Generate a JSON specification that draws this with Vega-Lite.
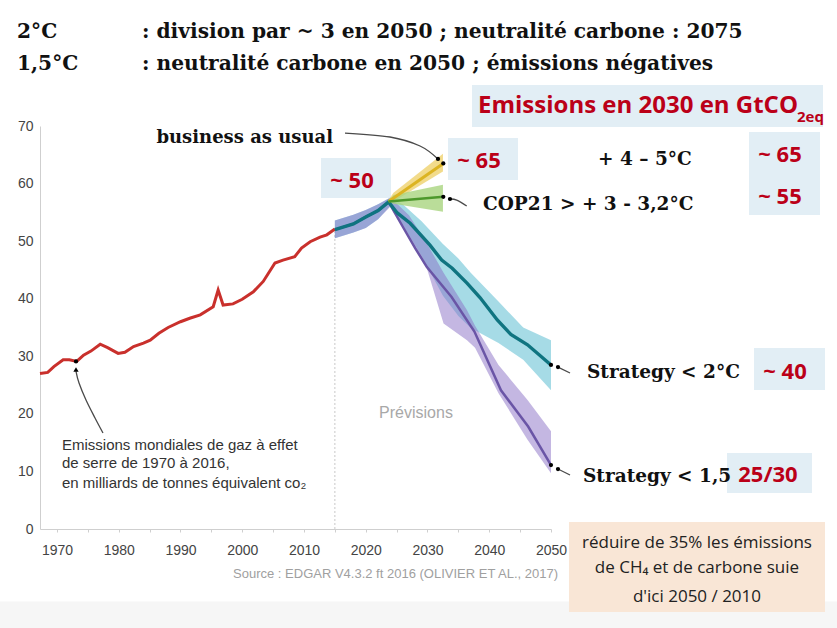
{
 "$schema": "https://vega.github.io/schema/vega-lite/v6.json",
 "width": 511, "height": 403,
 "autosize": {"type": "none"},
 "padding": {"left": 40, "top": 126, "right": 286, "bottom": 99},
 "background": "#ffffff",
 "config": {"view": {"stroke": null}},
 "datasets": {
  "strip": [{"year": 1960.77, "year2": 2096.4, "value": -12.6, "value2": -17.3}],
  "blueBoxes": [
   {"year": 2012.75, "year2": 2024.09, "value": 57.49, "value2": 64.44},
   {"year": 2033.32, "year2": 2044.66, "value": 60.62, "value2": 67.92},
   {"year": 2037.21, "year2": 2094.05, "value": 69.83, "value2": 77.12},
   {"year": 2082.06, "year2": 2093.56, "value": 54.54, "value2": 68.96},
   {"year": 2082.87, "year2": 2094.37, "value": 24.14, "value2": 31.44},
   {"year": 2078.5, "year2": 2092.26, "value": 6.25, "value2": 13.2}
  ],
  "peachBox": [{"year": 2052.91, "year2": 2094.37, "value": -14.42, "value2": 1.22}],
  "rule2015": [{"year": 2015, "value": 0, "value2": 51.8}],
  "bandC": [
   {"year": 2015, "value": 50.5, "value2": 53.6},
   {"year": 2018, "value": 51.5, "value2": 54.6},
   {"year": 2020, "value": 52.3, "value2": 55.4},
   {"year": 2022, "value": 53.8, "value2": 56.4},
   {"year": 2024, "value": 56.2, "value2": 57.6},
   {"year": 2026, "value": 52.8, "value2": 56.4},
   {"year": 2029, "value": 47.5, "value2": 53.5},
   {"year": 2032.5, "value": 40.5, "value2": 49.5},
   {"year": 2035, "value": 37, "value2": 47},
   {"year": 2037, "value": 34.9, "value2": 44.5},
   {"year": 2041.5, "value": 32.3, "value2": 39.5},
   {"year": 2045.5, "value": 29.4, "value2": 35},
   {"year": 2050, "value": 24.1, "value2": 32.8}
  ],
  "bandP": [
   {"year": 2015, "value": 50.5, "value2": 53.6},
   {"year": 2018, "value": 51.5, "value2": 54.6},
   {"year": 2020, "value": 52.3, "value2": 55.4},
   {"year": 2022, "value": 53.8, "value2": 56.4},
   {"year": 2024, "value": 56, "value2": 57.6},
   {"year": 2027, "value": 50.5, "value2": 54.5},
   {"year": 2029.7, "value": 46, "value2": 50},
   {"year": 2032.6, "value": 35.7, "value2": 44.5},
   {"year": 2036.4, "value": 32.8, "value2": 38},
   {"year": 2037.7, "value": 31.5, "value2": 35.3},
   {"year": 2041.5, "value": 23.6, "value2": 28.5},
   {"year": 2046.2, "value": 15.5, "value2": 22.4},
   {"year": 2050, "value": 9.7, "value2": 17}
  ],
  "bandY": [
   {"year": 2023.7, "value": 56.8, "value2": 57.2},
   {"year": 2024.5, "value": 56.9, "value2": 58.4},
   {"year": 2032.5, "value": 62.1, "value2": 65.2}
  ],
  "bandG": [
   {"year": 2023.7, "value": 56.8, "value2": 57.0},
   {"year": 2024.5, "value": 56.5, "value2": 58},
   {"year": 2032.5, "value": 55.1, "value2": 59.8}
  ],
  "hist": [
   {"year": 1967.25, "value": 27.0}, {"year": 1968.5, "value": 27.2}, {"year": 1969.5, "value": 28.2},
   {"year": 1971, "value": 29.4}, {"year": 1972, "value": 29.4}, {"year": 1973.2, "value": 29.1},
   {"year": 1974.3, "value": 30.2}, {"year": 1975.5, "value": 30.9}, {"year": 1977, "value": 32.1},
   {"year": 1978.2, "value": 31.5}, {"year": 1979.9, "value": 30.5}, {"year": 1981, "value": 30.7},
   {"year": 1982.4, "value": 31.7}, {"year": 1984, "value": 32.3}, {"year": 1985.1, "value": 32.8},
   {"year": 1986.5, "value": 34.0}, {"year": 1988, "value": 35.0}, {"year": 1990, "value": 36.0},
   {"year": 1991.5, "value": 36.6}, {"year": 1993.2, "value": 37.2}, {"year": 1995.3, "value": 38.6},
   {"year": 1996.1, "value": 41.5}, {"year": 1996.9, "value": 38.9}, {"year": 1998.5, "value": 39.1},
   {"year": 2000, "value": 39.9}, {"year": 2001.8, "value": 41.2}, {"year": 2003.4, "value": 43.0},
   {"year": 2005.3, "value": 46.2}, {"year": 2006.6, "value": 46.7}, {"year": 2008.5, "value": 47.3},
   {"year": 2009.6, "value": 48.8}, {"year": 2011, "value": 49.9}, {"year": 2012.6, "value": 50.7},
   {"year": 2013.7, "value": 51.1}, {"year": 2015, "value": 52.1}
  ],
  "lineP": [
   {"year": 2015, "value": 52}, {"year": 2018, "value": 53}, {"year": 2020, "value": 54.2},
   {"year": 2022, "value": 55.3}, {"year": 2023.7, "value": 56.8}, {"year": 2026, "value": 52.5},
   {"year": 2028, "value": 48.8}, {"year": 2029.9, "value": 45.5}, {"year": 2033.9, "value": 40.3},
   {"year": 2037.6, "value": 34.3}, {"year": 2041.9, "value": 24.1}, {"year": 2046.3, "value": 17.8},
   {"year": 2050, "value": 11.1}
  ],
  "lineT": [
   {"year": 2015, "value": 52}, {"year": 2018, "value": 53}, {"year": 2020, "value": 54.2},
   {"year": 2022, "value": 55.3}, {"year": 2023.7, "value": 56.8}, {"year": 2025.1, "value": 54.9},
   {"year": 2027.2, "value": 53.1}, {"year": 2030.4, "value": 49.3}, {"year": 2032.3, "value": 46.7},
   {"year": 2034, "value": 45.3}, {"year": 2036.4, "value": 42.7}, {"year": 2038.5, "value": 40.2},
   {"year": 2041.3, "value": 36.3}, {"year": 2043.5, "value": 33.8}, {"year": 2046.2, "value": 32},
   {"year": 2050, "value": 28.5}
  ],
  "lineY": [{"year": 2023.7, "value": 56.9}, {"year": 2032.56, "value": 63.5}],
  "lineG": [{"year": 2023.7, "value": 56.9}, {"year": 2032.56, "value": 57.7}],
  "connectors": [
   {"id": "emis", "o": 0, "year": 1977.45, "value": 16.67},
   {"id": "emis", "o": 1, "year": 1976.16, "value": 19.28},
   {"id": "emis", "o": 2, "year": 1974.7, "value": 22.41},
   {"id": "emis", "o": 3, "year": 1973.57, "value": 25.36},
   {"id": "emis", "o": 4, "year": 1973.08, "value": 27.4},
   {"id": "bau", "o": 0, "year": 2016.64, "value": 68.78},
   {"id": "bau", "o": 1, "year": 2023.93, "value": 68.09},
   {"id": "bau", "o": 2, "year": 2028.79, "value": 66.53},
   {"id": "bau", "o": 3, "year": 2031.7, "value": 64.27},
   {"id": "cop", "o": 0, "year": 2036.35, "value": 56.1},
   {"id": "cop", "o": 1, "year": 2034.73, "value": 57.14},
   {"id": "cop", "o": 2, "year": 2033.64, "value": 57.32},
   {"id": "s2", "o": 0, "year": 2053.08, "value": 27.09},
   {"id": "s2", "o": 1, "year": 2051.13, "value": 28.13},
   {"id": "s15", "o": 0, "year": 2053.08, "value": 9.38},
   {"id": "s15", "o": 1, "year": 2051.13, "value": 10.42}
  ],
  "dots": [
   {"year": 1973.08, "value": 29.1}, {"year": 2031.7, "value": 64.27}, {"year": 2032.56, "value": 63.5},
   {"year": 2032.56, "value": 57.7}, {"year": 2033.64, "value": 57.32}, {"year": 2050, "value": 28.5},
   {"year": 2051.13, "value": 28.13}, {"year": 2050, "value": 11.1}, {"year": 2051.13, "value": 10.42}
  ],
  "arrowHead": [{"year": 1973.08, "value": 27.7}],
  "header": [
   {"label": "2°C", "year": 1963.53, "value": 85.29},
   {"label": ": division par ~ 3 en 2050 ; neutralité carbone : 2075", "year": 1983.77, "value": 85.29},
   {"label": "1,5°C", "year": 1963.53, "value": 79.73},
   {"label": ": neutralité carbone en 2050 ; émissions négatives", "year": 1983.77, "value": 79.73}
  ],
  "serifL": [
   {"label": "+ 4 – 5°C", "year": 2057.61, "value": 63.23},
   {"label": "COP21 > + 3 - 3,2°C", "year": 2038.99, "value": 55.41},
   {"label": "Strategy < 2°C", "year": 2055.83, "value": 26.18},
   {"label": "Strategy < 1,5", "year": 2055.18, "value": 8.22}
  ],
  "serifR": [{"label": "business as usual", "year": 2014.7, "value": 66.99}],
  "redNums": [
   {"label": "~ 50", "year": 2017.77, "value": 59.18},
   {"label": "~ 65", "year": 2038.34, "value": 62.7},
   {"label": "~ 65", "year": 2087.08, "value": 63.8},
   {"label": "~ 55", "year": 2087.08, "value": 56.45},
   {"label": "~ 40", "year": 2087.89, "value": 26.05},
   {"label": "25/30", "year": 2085.14, "value": 8.22}
  ],
  "titleMain": [{"label": "Emissions en 2030 en GtCO", "year": 2038.18, "value": 72.26}],
  "titleSub": [{"label": "2eq", "year": 2089.84, "value": 70.75}],
  "peachText": [
   {"label": "réduire de 35% les émissions", "year": 2073.64, "value": -3.36},
   {"label": "de CH₄ et de carbone suie", "year": 2073.64, "value": -7.7},
   {"label": "d'ici 2050 / 2010", "year": 2073.64, "value": -12.63}
  ],
  "prev": [{"label": "Prévisions", "year": 2028.14, "value": 19.23}],
  "annot": [
   {"label": "Emissions mondiales de gaz à effet", "year": 1970.81, "value": 13.72},
   {"label": "de serre de 1970 à 2016,", "year": 1970.81, "value": 10.54},
   {"label": "en milliards de tonnes équivalent co₂", "year": 1970.81, "value": 7.17}
  ],
  "source": [{"label": "Source : EDGAR V4.3.2 ft 2016 (OLIVIER ET AL., 2017)", "year": 2051.13, "value": -8.51}]
 },
 "encoding": {
  "x": {"field": "year", "type": "quantitative",
   "scale": {"domain": [1967.25, 2050], "nice": false, "zero": false},
   "axis": {"title": null, "values": [1970, 1975, 1980, 1985, 1990, 1995, 2000, 2005, 2010, 2015, 2020, 2025, 2030, 2035, 2040, 2045, 2050],
    "format": "d", "labelExpr": "datum.value % 10 === 0 ? datum.label : ''", "grid": false,
    "domainColor": "#cfcfcf", "tickColor": "#cfcfcf", "tickSize": 3, "labelFont": "Liberation Sans",
    "labelFontSize": 14, "labelColor": "#444444", "labelPadding": 11, "labelOverlap": false, "labelFlush": false}},
  "y": {"field": "value", "type": "quantitative",
   "scale": {"domain": [0, 70], "nice": false, "zero": false},
   "axis": {"title": null, "values": [0, 10, 20, 30, 40, 50, 60, 70], "format": "d", "grid": false, "ticks": false,
    "domainColor": "#cfcfcf", "labelFont": "Liberation Sans", "labelFontSize": 14, "labelColor": "#444444", "labelPadding": 7}}
 },
 "layer": [
  {"data": {"name": "strip"}, "mark": {"type": "rect", "color": "#f6f6f6"},
   "encoding": {"x2": {"field": "year2"}, "y2": {"field": "value2"}}},
  {"data": {"name": "blueBoxes"}, "mark": {"type": "rect", "color": "#e2eef5"},
   "encoding": {"x2": {"field": "year2"}, "y2": {"field": "value2"}}},
  {"data": {"name": "peachBox"}, "mark": {"type": "rect", "color": "#f9e6d6"},
   "encoding": {"x2": {"field": "year2"}, "y2": {"field": "value2"}}},
  {"data": {"name": "rule2015"}, "mark": {"type": "rule", "color": "#c8c8c8", "strokeDash": [2, 2], "strokeWidth": 1},
   "encoding": {"y2": {"field": "value2"}}},
  {"data": {"name": "bandC"}, "mark": {"type": "area", "color": "#6bc3d5", "opacity": 0.6},
   "encoding": {"y2": {"field": "value2"}}},
  {"data": {"name": "bandP"}, "mark": {"type": "area", "color": "#8970c5", "opacity": 0.5},
   "encoding": {"y2": {"field": "value2"}}},
  {"data": {"name": "bandY"}, "mark": {"type": "area", "color": "#f0d577", "opacity": 0.85},
   "encoding": {"y2": {"field": "value2"}}},
  {"data": {"name": "bandG"}, "mark": {"type": "area", "color": "#a9d47f", "opacity": 0.8},
   "encoding": {"y2": {"field": "value2"}}},
  {"data": {"name": "hist"}, "mark": {"type": "line", "color": "#c9302c", "strokeWidth": 3}, "encoding": {}},
  {"data": {"name": "lineP"}, "mark": {"type": "line", "color": "#6a55a6", "strokeWidth": 2.5}, "encoding": {}},
  {"data": {"name": "lineT"}, "mark": {"type": "line", "color": "#0f7480", "strokeWidth": 3.4}, "encoding": {}},
  {"data": {"name": "lineY"}, "mark": {"type": "line", "color": "#dcb422", "strokeWidth": 3}, "encoding": {}},
  {"data": {"name": "lineG"}, "mark": {"type": "line", "color": "#4d982c", "strokeWidth": 2.5}, "encoding": {}},
  {"data": {"name": "connectors"}, "mark": {"type": "line", "color": "#4a4a4a", "strokeWidth": 1.3, "interpolate": "cardinal"},
   "encoding": {"detail": {"field": "id"}, "order": {"field": "o", "type": "quantitative"}}},
  {"data": {"name": "dots"}, "mark": {"type": "point", "filled": true, "color": "#000000", "size": 18, "opacity": 1}},
  {"data": {"name": "arrowHead"}, "mark": {"type": "point", "shape": "triangle-up", "filled": true, "color": "#000000", "size": 28, "opacity": 1}},
  {"data": {"name": "header"}, "mark": {"type": "text", "font": "DejaVu Serif", "fontWeight": "bold", "fontSize": 20.2, "align": "left", "baseline": "alphabetic", "color": "#111111"},
   "encoding": {"text": {"field": "label"}}},
  {"data": {"name": "serifL"}, "mark": {"type": "text", "font": "DejaVu Serif", "fontWeight": "bold", "fontSize": 18.5, "align": "left", "baseline": "alphabetic", "color": "#111111"},
   "encoding": {"text": {"field": "label"}}},
  {"data": {"name": "serifR"}, "mark": {"type": "text", "font": "DejaVu Serif", "fontWeight": "bold", "fontSize": 18, "align": "right", "baseline": "alphabetic", "color": "#111111"},
   "encoding": {"text": {"field": "label"}}},
  {"data": {"name": "redNums"}, "mark": {"type": "text", "font": "Open Sans", "fontWeight": "bold", "fontSize": 22, "align": "center", "baseline": "alphabetic", "color": "#bb0018"},
   "encoding": {"text": {"field": "label"}}},
  {"data": {"name": "titleMain"}, "mark": {"type": "text", "font": "Open Sans", "fontWeight": "bold", "fontSize": 24, "align": "left", "baseline": "alphabetic", "color": "#bb0018"},
   "encoding": {"text": {"field": "label"}}},
  {"data": {"name": "titleSub"}, "mark": {"type": "text", "font": "Open Sans", "fontWeight": "bold", "fontSize": 15, "align": "left", "baseline": "alphabetic", "color": "#bb0018"},
   "encoding": {"text": {"field": "label"}}},
  {"data": {"name": "peachText"}, "mark": {"type": "text", "font": "Open Sans", "fontSize": 17, "align": "center", "baseline": "alphabetic", "color": "#222222"},
   "encoding": {"text": {"field": "label"}}},
  {"data": {"name": "prev"}, "mark": {"type": "text", "font": "Liberation Sans", "fontSize": 16, "align": "center", "baseline": "alphabetic", "color": "#a8a8a8"},
   "encoding": {"text": {"field": "label"}}},
  {"data": {"name": "annot"}, "mark": {"type": "text", "font": "Liberation Sans", "fontSize": 15, "align": "left", "baseline": "alphabetic", "color": "#333333"},
   "encoding": {"text": {"field": "label"}}},
  {"data": {"name": "source"}, "mark": {"type": "text", "font": "Liberation Sans", "fontSize": 13, "align": "right", "baseline": "alphabetic", "color": "#a0a0a0"},
   "encoding": {"text": {"field": "label"}}}
 ]
}
